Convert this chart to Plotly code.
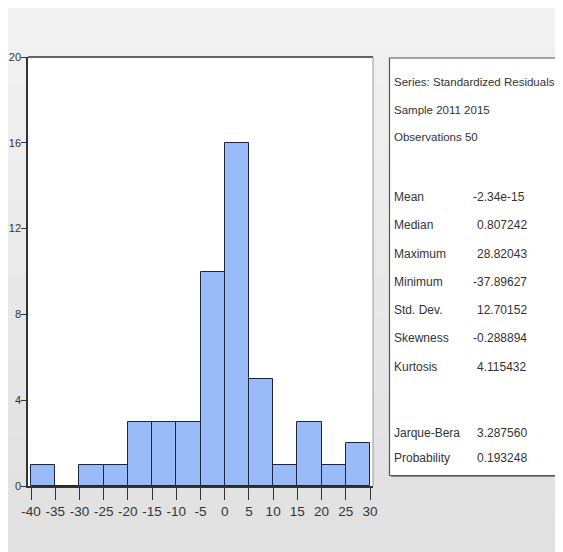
import plotly.graph_objects as go

# ---- data ----
bin_starts = [-40, -35, -30, -25, -20, -15, -10, -5, 0, 5, 10, 15, 20, 25]
bin_width = 5
counts = [1, 0, 1, 1, 3, 3, 3, 10, 16, 5, 1, 3, 1, 2]
x_ticks = [-40, -35, -30, -25, -20, -15, -10, -5, 0, 5, 10, 15, 20, 25, 30]
y_ticks = [0, 4, 8, 12, 16, 20]
header_lines = ["Series: Standardized Residuals", "Sample 2011 2015", "Observations 50"]
stat_labels = ["Mean", "Median", "Maximum", "Minimum", "Std. Dev.", "Skewness", "Kurtosis"]
stat_values = ["-2.34e-15", "0.807242", "28.82043", "-37.89627", "12.70152", "-0.288894", "4.115432"]
test_labels = ["Jarque-Bera", "Probability"]
test_values = ["3.287560", "0.193248"]

# page body has an 8px default margin, so the figure is 8px smaller
OFF = 8
W, H = 563 - OFF, 552 - OFF
L, R, T, B = 28 - OFF, 373 - OFF, 57 - OFF, 486 - OFF
FONT = "Liberation Sans, Arial, sans-serif"
TXT = "#333333"


def px(x):
    # x given in reference-page pixels
    return (x - OFF - L) / (R - L)


def py(y):
    return (B - (y - OFF)) / (B - T)


def fnt(size):
    return dict(family=FONT, size=size, color=TXT)


fig = go.Figure()
fig.add_trace(go.Bar(
    x=[s + bin_width / 2 for s in bin_starts],
    y=counts,
    width=[bin_width] * len(counts),
    marker=dict(color="#99bbf7", line=dict(color="#1c2440", width=1)),
    hoverinfo="skip",
))

shapes = []
# background gradient bands
nb = 14
for i in range(nb):
    y0 = OFF + (H) * i / nb
    y1 = OFF + (H) * (i + 1) / nb
    g = int(242 - (242 - 225) * i / (nb - 1))
    col = f"rgb({g},{g},{g})"
    shapes.append(dict(type="rect", xref="paper", yref="paper", layer="below",
                       x0=px(OFF - 2), x1=px(563 + 2), y0=py(y1 + 1), y1=py(y0 - 1),
                       fillcolor=col, line=dict(width=0)))
# white plot area over the bands
shapes.append(dict(type="rect", xref="paper", yref="paper", layer="below",
                   x0=0, x1=1, y0=0, y1=1, fillcolor="white", line=dict(width=0)))
# plot borders: top dark, right light gray
shapes.append(dict(type="line", xref="paper", yref="paper", x0=0, x1=1, y0=1, y1=1,
                   line=dict(color="#333333", width=1.5)))
shapes.append(dict(type="line", xref="paper", yref="paper", x0=1, x1=1, y0=0, y1=1,
                   line=dict(color="#9a9a9a", width=1)))
# stats box with shadow
shapes.append(dict(type="rect", xref="paper", yref="paper",
                   x0=px(391), x1=px(563), y0=py(477), y1=py(59),
                   fillcolor="#888888", line=dict(width=0)))
shapes.append(dict(type="rect", xref="paper", yref="paper",
                   x0=px(389.5), x1=px(561.5), y0=py(475.5), y1=py(58),
                   fillcolor="white", line=dict(color="#555555", width=1.2)))

FS = 12
XL = 391.5
annotations = []
for i, t in enumerate(header_lines):
    annotations.append(dict(text=t, xref="paper", yref="paper", x=px(XL), y=py(82 + 27.5 * i),
                            xanchor="left", yanchor="middle", showarrow=False, font=fnt(11.5)))
for i, (lab, val) in enumerate(zip(stat_labels, stat_values)):
    yy = py(197 + 28.3 * i)
    annotations.append(dict(text=lab, xref="paper", yref="paper", x=px(XL), y=yy,
                            xanchor="left", yanchor="middle", showarrow=False, font=fnt(FS)))
    annotations.append(dict(text=val, xref="paper", yref="paper",
                            x=px(471 if val.startswith("-") else 475), y=yy,
                            xanchor="left", yanchor="middle", showarrow=False, font=fnt(FS)))
for i, (lab, val) in enumerate(zip(test_labels, test_values)):
    yy = py(433 + 24.5 * i)
    annotations.append(dict(text=lab, xref="paper", yref="paper", x=px(XL), y=yy,
                            xanchor="left", yanchor="middle", showarrow=False, font=fnt(FS)))
    annotations.append(dict(text=val, xref="paper", yref="paper", x=px(475), y=yy,
                            xanchor="left", yanchor="middle", showarrow=False, font=fnt(FS)))

fig.update_layout(
    width=W, height=H,
    margin=dict(l=L, r=W - R, t=T, b=H - B, pad=0, autoexpand=False),
    paper_bgcolor="white",
    plot_bgcolor="white",
    showlegend=False,
    bargap=0,
    shapes=shapes,
    annotations=annotations,
    xaxis=dict(range=[-40.62, 30.62], tickvals=x_ticks, ticktext=[str(v) for v in x_ticks],
               ticks="outside", ticklen=12, tickcolor="#333333", tickwidth=1, tickangle=0,
               showline=True, linecolor="#333333", linewidth=1.5, showgrid=False, zeroline=False,
               automargin=False, tickfont=fnt(13.5), fixedrange=True),
    yaxis=dict(range=[0, 20], tickvals=y_ticks, ticktext=[str(v) for v in y_ticks],
               ticks="outside", ticklen=5, tickcolor="#333333", tickwidth=1,
               ticklabelstandoff=-2,
               showline=True, linecolor="#333333", linewidth=1.5, showgrid=False, zeroline=False,
               automargin=False, tickfont=fnt(11), fixedrange=True),
)

fig.write_html("out.html", config={"displayModeBar": False})
